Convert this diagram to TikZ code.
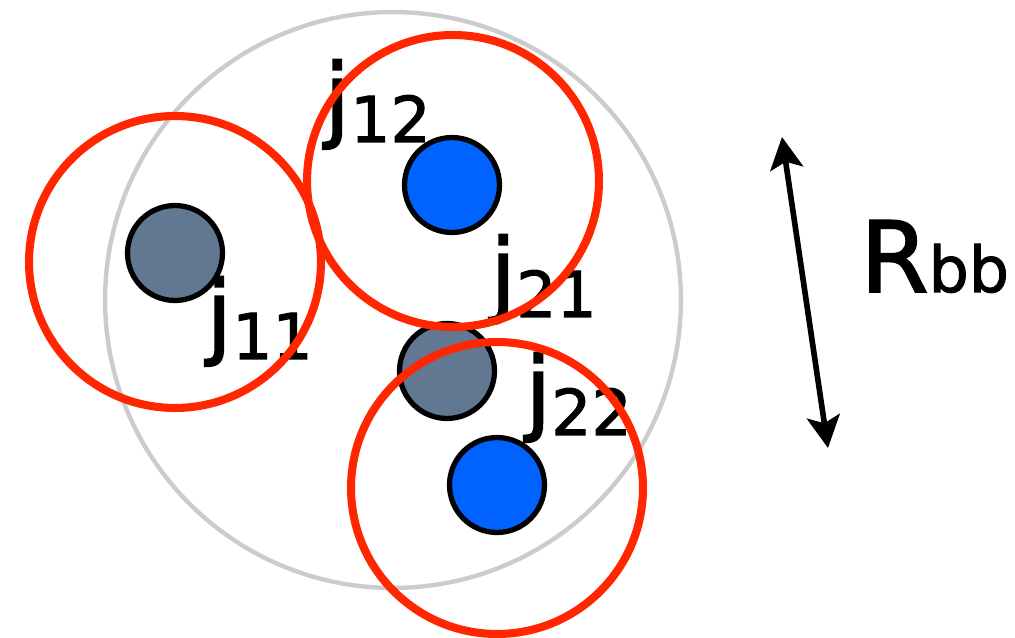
\documentclass[tikz,border=0pt]{standalone}
\usepackage{fontspec}
\setmainfont{DejaVu Sans}[FakeBold=1.6]
\usetikzlibrary{arrows.meta}
\definecolor{ringred}{RGB}{255,38,0}
\definecolor{hullgray}{RGB}{204,204,204}
\definecolor{slate}{RGB}{98,119,146}
\definecolor{jetblue}{RGB}{0,98,255}
\newcommand{\jname}[1]{{\fontsize{53}{53}\selectfont j}\raisebox{-0.24cm}{\fontsize{36}{36}\selectfont #1}}

\begin{document}
\begin{tikzpicture}[
  x=0.02cm, y=-0.02cm,
  >={Stealth[length=0.64cm,width=0.66cm,inset=0.14cm]},
  subjet/.style={circle, draw, line width=3pt, minimum size=1.9cm, inner sep=0pt},
  ring/.style={draw=ringred, line width=4.6pt},
  tag/.style={anchor=base west, inner sep=0pt}
]
\useasboundingbox (0,0) rectangle (1015,638);
% fat jet
\draw[hullgray, line width=2.5pt] (393,300) circle[radius=5.76cm];

% subjets
\node[subjet, fill=slate] (j11) at (175,253) {};
\node[subjet, fill=jetblue] (j12) at (452,185) {};
\node[subjet, fill=slate] (j21) at (447,371) {};
\node[subjet, fill=jetblue] (j22) at (497,485) {};

\node[tag] (t11) at (206,347) {\jname{11}};
\node[tag] (t12) at (324,130) {\jname{12}};
\node[tag] (t21) at (490,305) {\jname{21}};
\node[tag] (t22) at (525,423) {\jname{22}};

% reclustered rings
\draw[ring] (175,262) circle[radius=2.92cm];
\draw[ring] (453,181) circle[radius=2.92cm];
\draw[ring] (497,488) circle[radius=2.92cm];

% radius arrow
\coordinate (rtop) at (782,137);
\coordinate (rbot) at (828,448);
\draw[<->, line width=3.2pt] (rtop) -- (rbot);
\node[tag] (rbb) at (860,292) {{\fontsize{56}{56}\selectfont R}{\fontsize{36}{36}\selectfont bb}};
\end{tikzpicture}
\end{document}
